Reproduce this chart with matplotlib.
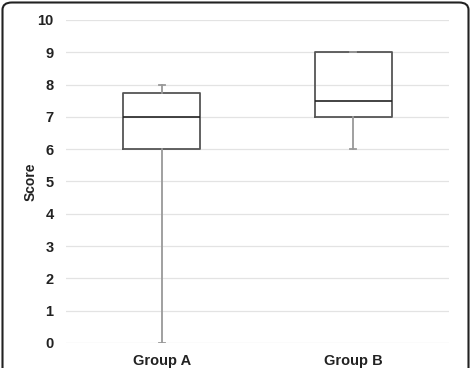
import matplotlib
matplotlib.use("Agg")
import matplotlib.pyplot as plt
from matplotlib.patches import FancyBboxPatch

# %% data
groups = ["Group A", "Group B"]
whisker_low = [0, 6]
q1 = [6, 7]
median = [7, 7.5]
q3 = [7.75, 9]
whisker_high = [8, 9]
yticks = list(range(0, 11))

plt.rcParams['font.family'] = ['Liberation Sans', 'DejaVu Sans']

stats = []
for i, g in enumerate(groups):
    stats.append(dict(label=g, whislo=whisker_low[i], q1=q1[i], med=median[i],
                      q3=q3[i], whishi=whisker_high[i], fliers=[]))

# %% figure
fig = plt.figure(figsize=(4.71, 3.68), dpi=100)
ax = fig.add_axes([66/471, 1-343/368, 383/471, 323/368])

ax.bxp(stats, positions=[1, 2], widths=0.4, showfliers=False,
       boxprops=dict(color="#555555", linewidth=1.3),
       medianprops=dict(color="#222222", linewidth=1.2),
       whiskerprops=dict(color="#999999", linewidth=1.3),
       capprops=dict(color="#999999", linewidth=1.3),
       capwidths=0.03)

ax.set_xlim(0.5, 2.5)
ax.set_ylim(0, 10)
ax.set_yticks(yticks)
ax.set_yticklabels([str(t) for t in yticks], fontsize=10.5, fontweight="bold", color="#222222")
ax.set_xticks([1, 2])
ax.set_xticklabels(groups, fontsize=10.5, fontweight="bold", color="#222222")
ax.tick_params(length=0)
ax.tick_params(axis="y", pad=9)
ax.tick_params(axis="x", pad=8)
ax.yaxis.grid(True, color="#e3e3e3", linewidth=0.9)
ax.set_axisbelow(True)
for s in ax.spines.values():
    s.set_visible(False)
ax.set_ylabel("Score", fontsize=10, fontweight="bold", color="#222222", labelpad=0)

# rounded frame around the whole figure, bottom runs off the image
frame = FancyBboxPatch((2.5/471, -20/368), 466/471, 385.5/368,
                       boxstyle="round,pad=0,rounding_size=0.02",
                       transform=fig.transFigure, fill=False,
                       edgecolor="#222222", linewidth=1.5)
fig.patches.append(frame)

fig.savefig("out.png", dpi=100)
